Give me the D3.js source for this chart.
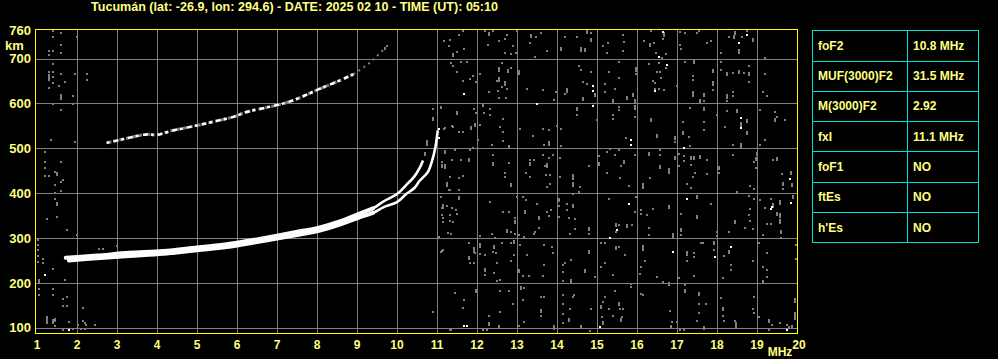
<!DOCTYPE html>
<html>
<head>
<meta charset="utf-8">
<script src="https://cdn.jsdelivr.net/npm/d3@7"></script>
<style>
  body { margin: 0; background: #000; }
  svg { display: block; }
  text { font-family: "Liberation Sans", Arial, sans-serif; font-weight: bold; fill: #ffff80; }
</style>
</head>
<body>
<div id="ionogram"></div>
<script>
var title = "Tucumán (lat: -26.9, lon: 294.6) - DATE: 2025 02 10 - TIME (UT): 05:10";

var freqTicks = [1, 2, 3, 4, 5, 6, 7, 8, 9, 10, 11, 12, 13, 14, 15, 16, 17, 18, 19, 20];
var heightTicks = [100, 200, 300, 400, 500, 600, 700];

// [MHz, km]
var oTrace = [[1.72, 256], [2.5, 261], [3.3, 267], [4.16, 271], [5, 279], [5.74, 286], [6.5, 297], [7, 305],
    [7.575, 315], [8, 322], [8.57, 337], [9, 352], [9.4, 366], [9.67, 382], [10, 398], [10.23, 418],
    [10.44, 438], [10.56, 455], [10.65, 473]];
var xTrace = [[1.8, 250], [2.5, 255], [3.3, 260], [4.16, 265], [5, 273], [5.74, 280], [6.5, 291], [7, 299],
    [7.575, 308], [8, 315], [8.57, 330], [9, 344], [9.4, 356], [9.67, 369], [10, 380], [10.23, 398],
    [10.44, 412], [10.56, 427], [10.77, 447], [10.88, 473], [10.96, 503], [11.02, 540]];
var secondHop = [[2.74, 512], [3.08, 519], [3.33, 524], [3.74, 531], [3.99, 530], [4.41, 540], [4.74, 546],
    [5.16, 554], [5.49, 561], [5.91, 570], [6.24, 581], [6.74, 591], [7.08, 598], [7.41, 607], [7.83, 623],
    [8.08, 633], [8.41, 645], [8.74, 658], [8.91, 665]];
var secondHopFaint = [[8.91, 665], [9.24, 685], [9.41, 698], [9.7, 723]];

var noiseWhite = [[11.68, 622], [13.5, 598], [14.9, 639], [14.9, 628], [14.9, 594], [11.04, 542], [11.04, 523],
    [16.65, 760], [18.54, 734], [18.75, 752], [16.54, 704], [16.75, 685], [16.46, 628], [18.6, 568], [18.6, 545],
    [15.85, 518], [15.85, 508], [17.17, 501], [19.83, 431], [11.75, 105], [15.08, 101], [15.33, 301], [15.79, 376],
    [17.25, 386], [19.38, 369], [19.35, 364], [19.85, 379], [16.9, 270], [17.96, 257], [18.35, 279], [19.75, 95],
    [1.2, 217], [11.67, 104], [15.5, 318], [1.8, 95]];

// [MHz, km, streak length in px]
var noiseGray = [
    // 11-15.5 MHz, upper
    [11.17, 740], [11.32, 742], [11.54, 752], [11.29, 727], [11.39, 707, 4], [11.5, 715], [11.68, 721], [11.65, 762],
    [12.21, 762], [12.31, 754, 4], [12.39, 762], [12.28, 731], [12.54, 738], [12.71, 743], [12.75, 752], [12.9, 727],
    [12.71, 712], [12.86, 710], [12.98, 712], [13.0, 762], [13.36, 751, 4], [13.48, 749], [13.6, 757], [13.33, 734],
    [13.75, 717], [13.44, 704], [14.11, 721, 4], [14.19, 749], [14.5, 749], [14.61, 722, 5], [14.71, 719, 4], [14.75, 760, 4],
    [14.85, 757], [14.85, 742, 4], [15.14, 727], [15.27, 734], [15.25, 712],
    [11.35, 689], [11.4, 684], [11.6, 693], [11.75, 693], [11.5, 670], [11.9, 660], [11.83, 655], [11.65, 650],
    [11.98, 648], [12.08, 666], [12.29, 625], [12.54, 676, 5], [12.54, 654, 5], [12.5, 650], [12.62, 691], [12.77, 672, 4],
    [12.85, 678], [13.04, 670, 5], [12.71, 646, 5], [12.62, 637], [12.75, 633], [12.52, 628], [12.54, 613],
    [12.73, 613], [13.25, 633], [13.65, 629], [13.98, 625], [13.93, 607], [14.25, 630, 5], [14.19, 620], [14.54, 684],
    [14.6, 675], [14.85, 670], [14.65, 648], [14.75, 644], [14.94, 618, 4], [14.65, 609, 4], [15.19, 643], [15.21, 625],
    [15.29, 670], [15.4, 605, 4], [15.44, 633],
    [11.1, 589], [11.5, 578, 4], [11.4, 548], [11.18, 543], [11.54, 536], [11.85, 546, 4], [11.92, 588], [11.98, 579],
    [11.96, 551, 4], [12.07, 553], [12.15, 596, 4], [12.17, 578], [12.33, 575], [12.33, 588], [12.65, 566], [12.58, 548],
    [12.64, 536], [12.02, 518], [12.65, 516], [12.38, 508], [11.9, 501], [12.79, 503, 4], [13.08, 543], [13.4, 527],
    [13.65, 543], [13.79, 540], [13.79, 512, 5], [13.67, 508], [14.0, 549], [14.1, 543], [14.5, 587, 4], [14.5, 575],
    [15.0, 563], [15.4, 575], [15.4, 566], [14.11, 505],
    [11.21, 490], [11.46, 496], [11.6, 473], [11.83, 497], [11.79, 475, 4], [11.12, 463], [11.21, 460, 5], [11.54, 434],
    [11.65, 439], [11.37, 473], [12.4, 466, 4], [12.4, 484], [12.79, 467], [12.71, 446], [12.71, 437], [13.33, 473],
    [13.32, 465, 4], [13.42, 473], [13.23, 446], [13.32, 435], [13.65, 486], [13.79, 478], [13.9, 486], [13.71, 460],
    [13.75, 463, 5], [13.73, 441], [13.83, 441], [14.08, 478], [14.08, 437], [14.4, 439, 4], [14.4, 431], [14.79, 460],
    [15.04, 466, 4], [15.04, 482], [15.25, 491], [15.33, 499], [15.25, 446], [15.44, 486],
    // 15.5-20 MHz, upper
    [15.65, 752], [15.68, 737], [15.65, 717], [16.18, 740], [16.33, 730, 4], [16.43, 734], [16.68, 754, 5], [16.65, 743],
    [16.35, 762], [17.08, 760], [17.21, 757], [17.5, 757], [17.54, 762], [17.08, 730], [17.1, 721], [17.75, 734],
    [17.86, 740], [18.1, 712], [18.29, 749], [18.46, 758, 4], [18.43, 747, 4], [18.63, 749], [18.54, 717, 5], [18.75, 762],
    [18.9, 742, 4], [16.48, 712], [16.63, 702], [16.73, 710], [19.19, 702],
    [15.54, 693], [15.98, 676, 5], [15.98, 665], [16.29, 687], [16.54, 690], [16.73, 678], [16.5, 670], [16.58, 670],
    [16.6, 657], [16.4, 650], [16.46, 646], [16.46, 633], [16.54, 633], [16.68, 630], [15.54, 657], [15.75, 613, 4],
    [15.9, 618, 4], [15.96, 605, 4], [17.0, 639], [17.21, 693], [17.42, 693, 4], [17.4, 660], [17.4, 652],
    [17.4, 620, 6], [17.58, 605, 4], [17.68, 618, 4], [17.68, 605], [17.9, 672, 4], [17.9, 646, 5], [17.9, 630], [18.1, 693],
    [18.1, 675], [18.25, 665, 4], [18.4, 667], [18.54, 670, 4], [18.67, 667], [18.79, 665, 4], [18.79, 684], [18.79, 648],
    [18.4, 625], [18.4, 616], [18.25, 616, 5], [18.25, 605], [19.15, 625], [19.25, 616], [19.19, 665],
    [15.54, 593], [15.54, 585], [15.96, 593, 5], [15.96, 570], [16.35, 564, 4], [16.5, 528, 4], [16.96, 523, 4], [16.96, 513],
    [17.15, 533, 4], [17.29, 525], [17.32, 506], [17.33, 590], [17.15, 558], [17.68, 587, 4], [17.68, 558], [17.68, 540],
    [18.0, 575], [18.25, 583], [18.5, 583, 4], [18.6, 553, 6], [18.75, 560, 4], [18.75, 534, 4], [18.6, 508, 5], [18.19, 548],
    [18.4, 508], [19.08, 585], [19.21, 518], [19.46, 581], [19.46, 563, 4], [19.5, 570], [19.69, 563], [19.08, 508],
    [15.73, 523],
    [15.54, 497], [15.68, 469, 4], [15.6, 460], [15.96, 486], [16.29, 488, 4], [16.58, 496], [16.58, 484], [16.58, 458, 4],
    [16.79, 452, 4], [16.79, 446], [16.96, 478, 4], [17.04, 488], [17.17, 482], [17.17, 471], [17.04, 461], [17.35, 478, 4],
    [17.43, 478, 4], [17.58, 481, 4], [17.75, 473], [17.35, 463], [17.46, 446], [17.75, 443], [17.4, 437], [18.04, 456, 4],
    [18.04, 446], [18.4, 486], [19.0, 488, 4], [18.98, 476, 4], [18.98, 456], [18.92, 469], [19.4, 473], [19.5, 476, 4],
    [19.63, 443], [19.85, 445, 4], [15.58, 434], [16.33, 434],
    // 11-15.5 MHz, lower
    [11.25, 418, 4], [11.54, 408], [12.85, 418, 4], [13.75, 413], [13.83, 421], [14.4, 421, 5], [14.58, 413], [14.54, 402],
    [14.4, 399], [11.1, 391], [11.15, 369, 4], [11.25, 371], [11.38, 367], [11.48, 362], [11.5, 354], [11.15, 345],
    [11.15, 336], [11.4, 336], [11.54, 389, 4], [11.35, 310], [12.33, 380], [12.65, 358], [12.79, 358], [12.96, 345],
    [12.96, 335, 4], [12.75, 315, 4], [12.85, 314], [12.96, 310], [13.0, 391], [13.15, 391], [13.23, 384], [13.19, 357, 4],
    [13.5, 376], [13.54, 345, 4], [13.54, 323], [13.42, 310], [13.46, 313], [13.75, 358], [13.85, 362], [13.79, 349],
    [14.04, 384, 4], [14.04, 371], [14.25, 376], [14.4, 371, 4], [14.25, 362], [14.04, 347], [14.29, 345], [14.44, 342],
    [14.44, 320], [14.32, 308], [14.79, 321, 4], [14.79, 310], [15.29, 386], [15.48, 329, 4], [15.48, 313], [12.08, 305],
    [12.38, 308], [12.46, 301], [13.04, 307], [13.18, 303],
    [11.04, 303], [11.1, 270], [11.15, 274], [11.79, 288], [11.93, 274, 6], [11.96, 266], [11.79, 255, 4], [11.83, 244],
    [11.93, 244], [12.08, 285, 5], [12.08, 264], [12.21, 263], [12.4, 270], [12.43, 281, 4], [12.48, 266], [12.62, 288],
    [12.85, 288], [12.93, 292, 4], [12.93, 263], [12.85, 248], [12.5, 244], [12.21, 229, 4], [12.21, 218], [12.43, 222],
    [12.58, 207], [12.5, 204], [13.04, 226, 4], [13.15, 215], [13.29, 215], [13.08, 285], [13.25, 263], [13.65, 215],
    [13.68, 285], [13.88, 279], [13.9, 266], [13.68, 239], [14.15, 241], [14.21, 244], [14.35, 252], [14.15, 224],
    [14.15, 205], [14.35, 205, 4], [14.69, 226, 4], [14.79, 270, 4], [14.96, 213], [15.1, 288], [15.19, 288], [15.11, 235],
    [15.21, 244], [15.4, 217], [15.48, 281], [15.48, 276],
    [11.46, 178], [11.68, 163], [11.65, 145], [11.98, 182, 4], [12.29, 127], [12.29, 110], [12.58, 182], [12.58, 136],
    [12.79, 182], [12.9, 154], [12.54, 102, 4], [13.1, 189, 4], [13.18, 188], [13.15, 163], [13.17, 114], [13.04, 105],
    [13.6, 168], [13.68, 168], [13.6, 138, 4], [13.6, 127], [14.15, 173], [14.4, 168], [14.43, 173], [14.15, 154],
    [14.33, 141], [14.15, 130], [14.29, 117, 4], [14.15, 110], [14.6, 101, 4], [14.85, 141], [15.1, 146, 4], [15.15, 158],
    [15.29, 141], [15.13, 124], [15.15, 110, 4], [15.4, 127], [15.46, 183], [15.19, 168], [13.93, 101, 5], [11.33, 95],
    [12.15, 95], [14.83, 92], [12.24, 94], [12.29, 107], [12.29, 126], [11.34, 94],
    // 15.5-20 MHz, lower
    [15.79, 415], [16.15, 415, 6], [17.25, 421], [17.35, 411], [18.5, 402], [18.83, 415], [18.93, 410],
    [19.65, 421, 4], [19.65, 410], [19.88, 418, 4], [15.98, 391], [16.1, 362], [16.1, 354], [16.25, 351], [16.4, 364],
    [15.96, 358], [15.75, 327, 4], [15.88, 330], [16.29, 323], [16.29, 307], [16.79, 369, 4], [17.1, 354], [17.1, 318, 4],
    [17.1, 307], [17.5, 391, 4], [17.5, 347, 4], [17.85, 376], [18.0, 313], [18.0, 305], [18.29, 314], [18.46, 335, 4],
    [18.69, 323], [18.79, 393], [18.93, 386], [18.83, 364], [18.79, 351], [18.83, 338], [18.9, 320], [19.08, 384],
    [19.21, 367], [19.35, 386], [19.4, 374, 5], [19.5, 354, 4], [19.57, 380, 5], [19.58, 351, 5], [19.58, 338, 5], [19.25, 332],
    [19.35, 332], [19.9, 391, 4], [19.6, 313, 4], [19.6, 299], [19.15, 307], [15.54, 329],
    [15.54, 279], [15.71, 263], [16.15, 277, 6], [16.21, 248], [16.07, 220], [16.1, 235], [16.5, 213], [16.65, 202],
    [16.9, 305, 6], [17.25, 266, 5], [17.25, 248], [17.43, 266], [17.43, 257], [17.6, 288], [17.65, 288],
    [17.43, 215], [17.93, 288, 4], [17.93, 274], [18.29, 268, 4], [18.18, 261], [18.35, 239], [18.35, 229], [18.9, 248],
    [19.04, 288], [19.15, 235], [19.25, 229], [19.25, 266], [19.25, 213], [19.15, 202, 4], [19.98, 285], [19.98, 254],
    [17.04, 210], [18.15, 210],
    [15.85, 198], [15.85, 191], [16.1, 176], [16.15, 173], [15.54, 154, 4], [15.58, 141], [15.65, 141], [15.63, 123],
    [15.6, 117, 4], [16.79, 198, 4], [16.83, 138], [16.88, 114], [17.0, 114], [16.85, 102, 4], [17.21, 195], [17.21, 182, 4],
    [17.54, 176, 4], [17.54, 154], [17.73, 154], [17.54, 132], [17.5, 116], [17.68, 99, 4], [18.1, 166], [18.15, 141, 4],
    [18.15, 127], [18.18, 116], [18.46, 116], [18.48, 107, 6], [18.93, 168], [18.9, 141], [18.93, 132], [19.04, 124],
    [19.29, 116, 4], [19.38, 107], [19.58, 110], [19.75, 107], [19.79, 102], [19.96, 127, 8], [19.96, 163, 5], [19.88, 101, 4],
    [17.08, 95], [17.17, 95], [19.29, 95],
    // around 11 MHz, beside the trace
    [10.91, 587], [11.1, 591], [11.49, 578], [10.91, 566, 4], [11.2, 546], [11.38, 549], [11.65, 537], [10.74, 511, 6],
    [10.7, 487, 4], [11.2, 492, 4], [11.12, 470], [11.12, 460, 4], [11.24, 421, 4], [11.29, 408], [11.33, 408],
    [11.33, 435], [11.09, 391], [11.13, 368], [11.16, 373], [11.13, 351], [11.32, 351], [11.32, 338], [11.28, 311],
    [11.03, 302], [11.12, 271], [11.45, 177], [10.91, 135], [11.64, 145], [9.7, 723, 3], [9.75, 728],
    // 1-2.5 MHz
    [1.39, 762], [1.59, 758], [1.39, 749], [1.99, 749], [1.59, 731], [1.29, 717], [1.39, 717], [1.29, 708],
    [1.59, 713], [1.39, 688], [1.29, 670], [1.39, 670], [1.29, 658, 7], [1.41, 659], [1.59, 665],
    [1.41, 645], [1.7, 648], [1.55, 639], [1.29, 635], [1.94, 665], [2.24, 665], [2.24, 652], [1.59, 615, 6],
    [1.89, 617], [1.41, 599], [1.89, 599], [1.59, 586], [1.35, 519], [1.94, 514], [1.19, 492],
    [1.19, 470], [1.19, 456], [1.19, 438], [1.29, 438], [1.46, 447], [1.51, 442, 4], [1.61, 470],
    [1.66, 430], [1.46, 419], [1.61, 424], [1.46, 400], [1.61, 405], [1.46, 387], [1.51, 375, 4],
    [1.51, 347], [1.24, 342], [1.03, 295], [1.03, 284], [1.03, 273], [1.03, 261], [1.03, 246], [1.16, 254],
    [1.16, 244], [1.39, 230], [1.05, 205, 5], [1.05, 187], [1.05, 172], [1.39, 186], [1.39, 172],
    [1.7, 207], [1.74, 317], [1.99, 306], [1.64, 165], [1.74, 168], [1.64, 148], [1.74, 148], [2.14, 144],
    [1.24, 118, 8], [1.39, 115, 5], [1.45, 118, 4], [1.45, 103], [1.64, 96], [1.81, 113], [2.03, 107],
    [2.16, 115], [2.2, 110], [2.23, 107], [2.45, 107], [1.91, 97], [2.1, 97], [2.2, 97], [2.56, 276], [2.64, 276],
    [2.99, 282]
];

var paramNames = ["foF2", "MUF(3000)F2", "M(3000)F2", "fxI", "foF1", "ftEs", "h'Es"];
var paramValues = ["10.8 MHz", "31.5 MHz", "2.92", "11.1 MHz", "NO", "NO", "NO"];

var width = 998, height = 359;
var svg = d3.select("#ionogram").append("svg")
    .attr("width", width)
    .attr("height", height);

svg.append("rect").attr("width", width).attr("height", height).attr("fill", "#000");

var x = d3.scaleLinear().domain([1, 20]).range([37, 797]);
var y = d3.scaleLinear().domain([87.3, 764.7]).range([333.5, 29.5]);

function px(v) { return Math.round(v) + 0.5; }

// grid
var grid = svg.append("g").attr("stroke", "#808080").attr("stroke-width", 1);
grid.selectAll("line.v")
    .data(freqTicks.filter(function (d) { return d > 1 && d < 20; }))
    .enter().append("line")
    .attr("x1", function (d) { return px(x(d)); })
    .attr("x2", function (d) { return px(x(d)); })
    .attr("y1", 30).attr("y2", 333);
grid.selectAll("line.h")
    .data(heightTicks)
    .enter().append("line")
    .attr("y1", function (d) { return px(y(d)); })
    .attr("y2", function (d) { return px(y(d)); })
    .attr("x1", 36).attr("x2", 797);

// noise dots (2px wide, some taller streaks)
function dots(data, color) {
    svg.append("g").selectAll("rect")
        .data(data)
        .enter().append("rect")
        .attr("x", function (d) { return Math.round(x(d[0])) - 1; })
        .attr("y", function (d) { return Math.round(y(d[1])) - Math.floor((d[2] || 2) / 2); })
        .attr("width", 2)
        .attr("height", function (d) { return d[2] || 2; })
        .attr("fill", color);
}
dots(noiseGray, "#808080");

// traces
var line = d3.line()
    .x(function (d) { return x(d[0]); })
    .y(function (d) { return y(d[1]); })
    .curve(d3.curveCatmullRom);

svg.append("path").datum(secondHopFaint)
    .attr("d", line).attr("fill", "none")
    .attr("stroke", "#808080").attr("stroke-width", 2)
    .attr("stroke-dasharray", "2 4");
svg.append("path").datum(secondHop)
    .attr("d", line).attr("fill", "none")
    .attr("stroke", "#808080").attr("stroke-width", 3)
    .attr("stroke-dasharray", "5 2 3 3");
svg.append("path").datum(secondHop)
    .attr("d", line).attr("fill", "none")
    .attr("stroke", "#fff").attr("stroke-width", 2.5)
    .attr("stroke-dasharray", "3 4 5 3");

// thick merged band below 9.4 MHz, thinner separate curves above
[oTrace, xTrace].forEach(function (tr) {
    svg.append("path").datum(tr.filter(function (d) { return d[0] <= 9.4; }))
        .attr("d", line).attr("fill", "none")
        .attr("stroke", "#fff").attr("stroke-width", 4)
        .attr("stroke-linecap", "round");
    svg.append("path").datum(tr.filter(function (d) { return d[0] >= 9; }))
        .attr("d", line).attr("fill", "none")
        .attr("stroke", "#fff").attr("stroke-width", 2.6);
});

dots(noiseWhite, "#fff");

// frame
svg.append("rect")
    .attr("x", 35.5).attr("y", 29.5)
    .attr("width", 762).attr("height", 304)
    .attr("fill", "none").attr("stroke", "#ffff00");

// axis labels
svg.append("g").selectAll("text")
    .data(freqTicks)
    .enter().append("text")
    .attr("x", function (d) { return x(d) + (d === 20 ? 2 : 0); })
    .attr("y", 348.5)
    .attr("text-anchor", "middle")
    .style("font-size", "12px")
    .text(function (d) { return d; });
svg.append("text").attr("x", 780).attr("y", 355.5)
    .attr("text-anchor", "middle").style("font-size", "12px").text("MHz");

svg.append("g").selectAll("text")
    .data(heightTicks)
    .enter().append("text")
    .attr("x", 31)
    .attr("y", function (d) { return y(d); })
    .attr("dy", "0.36em")
    .attr("text-anchor", "end")
    .style("font-size", "13px")
    .text(function (d) { return d; });
svg.append("text").attr("x", 31).attr("y", 30.5).attr("dy", "0.36em")
    .attr("text-anchor", "end").style("font-size", "13px").text("760");
svg.append("text").attr("x", 5).attr("y", 45).attr("dy", "0.36em")
    .style("font-size", "13px").text("km");

// title
svg.append("text").attr("x", 91).attr("y", 11)
    .attr("textLength", 407).attr("lengthAdjust", "spacingAndGlyphs")
    .style("font-size", "12px").text(title);

// parameter table
var tx0 = 812.5, tx1 = 907.5, tx2 = 978.5, ty0 = 30.3, rowH = 30.29;
var table = svg.append("g");
table.append("rect").attr("x", tx0).attr("y", px(ty0))
    .attr("width", tx2 - tx0).attr("height", Math.round(rowH * 7))
    .attr("fill", "none").attr("stroke", "#00e0e0");
table.append("line").attr("x1", tx1).attr("x2", tx1)
    .attr("y1", px(ty0)).attr("y2", px(ty0) + Math.round(rowH * 7))
    .attr("stroke", "#00e0e0");
table.selectAll("line.row")
    .data(paramNames.slice(1))
    .enter().append("line")
    .attr("x1", tx0).attr("x2", tx2)
    .attr("y1", function (d, i) { return px(ty0 + rowH * (i + 1)); })
    .attr("y2", function (d, i) { return px(ty0 + rowH * (i + 1)); })
    .attr("stroke", "#00e0e0");
table.selectAll("text.name")
    .data(paramNames)
    .enter().append("text")
    .attr("x", 818)
    .attr("y", function (d, i) { return ty0 + rowH * (i + 0.5); })
    .attr("dy", "0.36em")
    .style("font-size", "12px")
    .text(function (d) { return d; });
table.selectAll("text.value")
    .data(paramValues)
    .enter().append("text")
    .attr("x", 913)
    .attr("y", function (d, i) { return ty0 + rowH * (i + 0.5); })
    .attr("dy", "0.36em")
    .style("font-size", "12px")
    .text(function (d) { return d; });
</script>
</body>
</html>
